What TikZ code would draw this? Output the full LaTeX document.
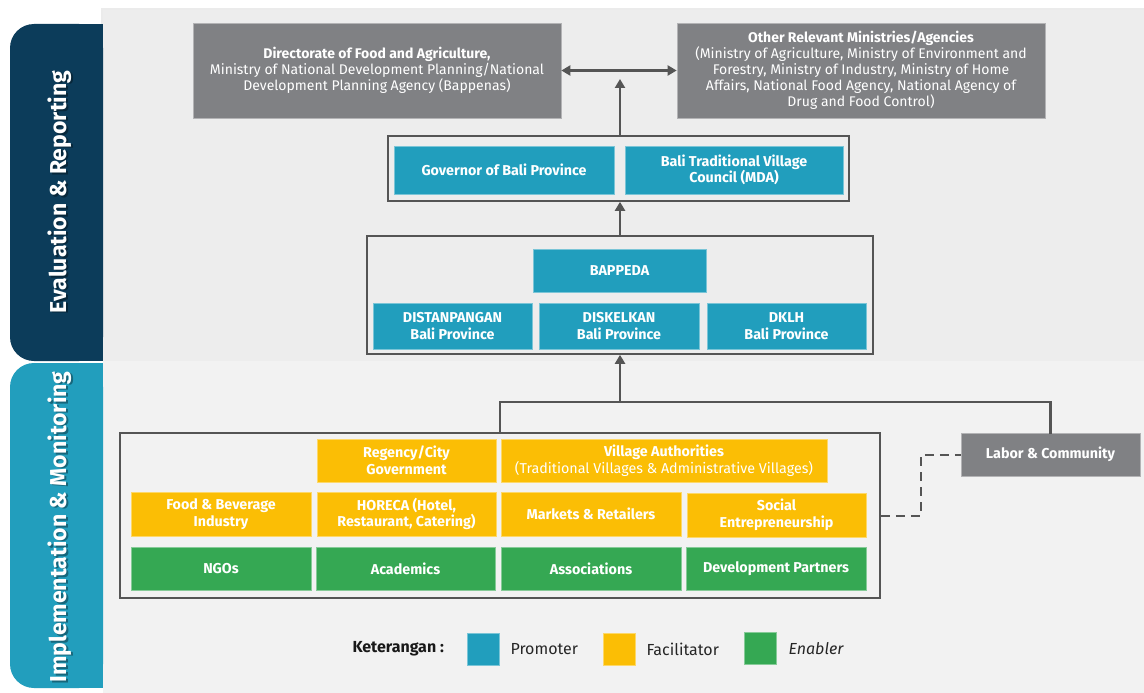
\documentclass[tikz,border=0pt]{standalone}
\usepackage{fontspec}
\setmainfont{Fira Sans}
\usetikzlibrary{arrows.meta}
\definecolor{cNavy}{HTML}{0C3C5A}
\definecolor{cSide}{HTML}{229EBD}
\definecolor{cPro}{HTML}{219EBD}
\definecolor{cFac}{HTML}{FBBE05}
\definecolor{cEna}{HTML}{35A853}
\definecolor{cGray}{HTML}{808184}
\definecolor{cLine}{HTML}{555555}
\definecolor{cTop}{HTML}{EDEDED}
\definecolor{cBot}{HTML}{F2F2F2}
\begin{document}
\begin{tikzpicture}[x=1pt,y=-1pt,
  box/.style={inner sep=1pt, align=center, text=white, line width=0.7pt,
    font=\fontsize{14}{16}\selectfont},
  pbox/.style={box, fill=cPro, draw=cPro!60!white, font=\fontsize{14.3}{16.5}\selectfont\bfseries},
  fbox/.style={box, fill=cFac, draw=cFac!60!white, font=\fontsize{14.3}{16.5}\selectfont\bfseries},
  ebox/.style={box, fill=cEna, draw=cEna!60!white, font=\fontsize{14.3}{16.5}\selectfont\bfseries},
  gybox/.style={box, fill=cGray, draw=cGray!60!white},
  grp/.style={draw=cLine, line width=1.6pt, inner sep=0pt},
  sz/.style 2 args={minimum width=#1, minimum height=#2},
  conn/.style={draw=cLine, line width=2.2pt},
  arr/.style={conn, -{Triangle[length=9pt,width=10pt]}},
  darr/.style={conn, {Triangle[length=9pt,width=10pt]}-{Triangle[length=9pt,width=10pt]}},
  dsh/.style={draw=cLine, line width=2pt, dash pattern=on 9pt off 6pt},
  side/.style={rotate=90, text=white, font=\fontsize{23}{25}\selectfont\bfseries},
  sideshadow/.style={rotate=90, text=black, opacity=0.35, font=\fontsize{23}{25}\selectfont\bfseries},
  leg/.style={minimum width=32pt, minimum height=32pt, inner sep=0pt, line width=0.7pt},
  legtxt/.style={anchor=west, text=black!85, font=\fontsize{16}{18}\selectfont}
]
\useasboundingbox (0,0) rectangle (1144,693);
\fill[white] (0,0) rectangle (1144,693);
% panels
\fill[black!8] (101,8) rectangle (1144,361);
\fill[cTop] (103,10) rectangle (1144,361);
\fill[cBot] (103,361) rectangle (1144,693);
% sidebars
\fill[cNavy, rounded corners=24pt] (10,24) rectangle (103,361);
\fill[cNavy] (60,24) rectangle (103,361);
\fill[cSide, rounded corners=24pt] (10,363) rectangle (103,688);
\fill[cSide] (60,363) rectangle (103,688);
\node[sideshadow] at (61.5,193.5) {Evaluation \& Reporting};
\node[side] (evtxt) at (60,192) {Evaluation \& Reporting};
\node[sideshadow] at (61.5,528.5) {Implementation \& Monitoring};
\node[side] (imtxt) at (60,527) {Implementation \& Monitoring};

% top boxes
\node[gybox, sz={368pt}{95pt}] (dir) at (377,70.5)
  {\textbf{Directorate of Food and Agriculture,}\\Ministry of National Development Planning/National\\Development Planning Agency (Bappenas)};
\node[gybox, sz={368pt}{95pt}] (oth) at (861,70.5)
  {\textbf{Other Relevant Ministries/Agencies}\\(Ministry of Agriculture, Ministry of Environment and\\Forestry, Ministry of Industry, Ministry of Home\\Affairs, National Food Agency, National Agency of\\Drug and Food Control)};

% governor group
\node[grp, sz={461pt}{65pt}] (gov) at (618.5,168.5) {};
\node[pbox, sz={220pt}{48pt}] (govb) at (504,170) {Governor of Bali Province};
\node[pbox, sz={218pt}{48pt}] (mda) at (734,170) {Bali Traditional Village\\Council (MDA)};

% bappeda group
\node[grp, sz={506pt}{118pt}] (bap) at (620,295) {};
\node[pbox, sz={173pt}{43pt}] (bappeda) at (619.5,270.5) {BAPPEDA};
\node[pbox, sz={159pt}{46pt}] (dist) at (452.5,326) {DISTANPANGAN\\Bali Province};
\node[pbox, sz={160pt}{46pt}] (disk) at (619,326) {DISKELKAN\\Bali Province};
\node[pbox, sz={159pt}{46pt}] (dklh) at (786.5,326) {DKLH\\Bali Province};

% bottom group
\node[grp, sz={760pt}{165pt}] (imp) at (500,515.5) {};
\node[fbox, sz={179pt}{43pt}] (reg) at (406.5,460.5) {Regency/City\\Government};
\node[fbox, sz={326pt}{43pt}] (vil) at (664,460.5) {Village Authorities\\\mdseries(Traditional Villages \& Administrative Villages)};
\node[fbox, sz={180pt}{44pt}] (fnb) at (221,514) {Food \& Beverage\\Industry};
\node[fbox, sz={179pt}{44pt}] (hor) at (406.5,514) {HORECA (Hotel,\\Restaurant, Catering)};
\node[fbox, sz={180pt}{44pt}] (mkt) at (591,514) {Markets \& Retailers};
\node[fbox, sz={179pt}{44pt}] (soc) at (776.5,515) {Social\\Entrepreneurship};
\node[ebox, sz={180pt}{43pt}] (ngo) at (221,568.5) {NGOs};
\node[ebox, sz={179pt}{43pt}] (aca) at (405.5,568.5) {Academics};
\node[ebox, sz={180pt}{43pt}] (ass) at (591,568.5) {Associations};
\node[ebox, sz={180pt}{43pt}] (dev) at (776,568.5) {Development Partners};

% labor
\node[gybox, sz={179pt}{43pt}, font=\fontsize{14.3}{16}\selectfont\bfseries] (lab) at (1050.5,454.5) {Labor \& Community};

% connectors
\coordinate (tip1) at (620,79);
\coordinate (jn) at (620,402);
\coordinate (jl) at (500,402);
\coordinate (dj) at (921,480);
\draw[darr] (dir.east) -- (oth.west);
\draw[arr] (tip1 |- gov.north) -- (tip1);
\draw[arr] (tip1 |- bap.north) -- (tip1 |- gov.south);
\draw[arr] (jn) -- (jn |- bap.south);
\draw[conn, line cap=rect] (jl |- imp.north) -- (jl) -- (jl -| lab.north) -- (lab.north);
\draw[dsh] (imp.east) -| (dj) |- (lab.west);

% legend
\node[font=\fontsize{16}{18}\selectfont\bfseries, text=black!90, anchor=west] (ket) at (349,649) {Keterangan :};
\node[leg, fill=cPro, draw=cPro!60!white] (l1) at (483,649) {};
\node[legtxt] (t1) at (507,649) {Promoter};
\node[leg, fill=cFac, draw=cFac!60!white] (l2) at (619,649) {};
\node[legtxt] (t2) at (643,649) {Facilitator};
\node[leg, fill=cEna, draw=cEna!60!white] (l3) at (760.5,648) {};
\node[legtxt] (t3) at (785,649) {\itshape Enabler};
\end{tikzpicture}
\end{document}
